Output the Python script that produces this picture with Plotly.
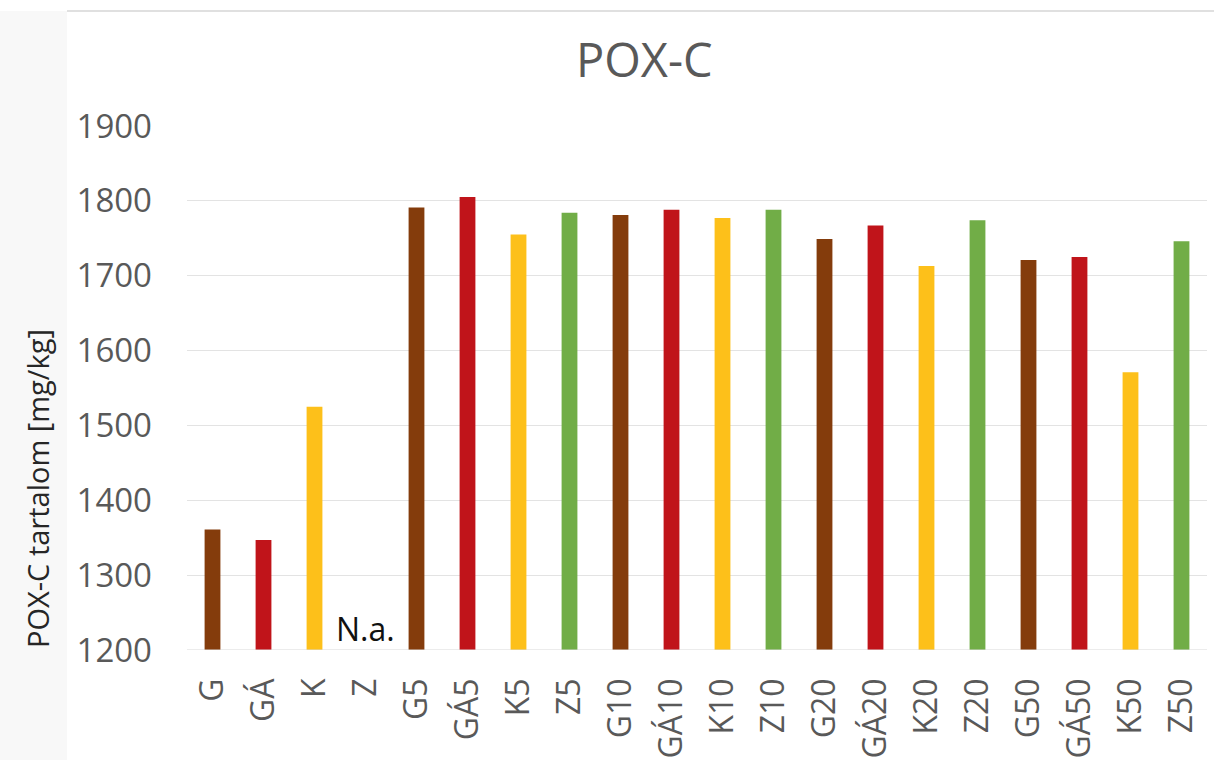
import plotly.graph_objects as go

categories = ["G", "GÁ", "K", "Z", "G5", "GÁ5", "K5", "Z5", "G10", "GÁ10", "K10", "Z10",
              "G20", "GÁ20", "K20", "Z20", "G50", "GÁ50", "K50", "Z50"]
values = [1361, 1347, 1525, None, 1791, 1805, 1755, 1784, 1781, 1788, 1777, 1788,
          1749, 1767, 1713, 1774, 1721, 1725, 1571, 1746]
groups = ["G", "GÁ", "K", "Z"] * 5
group_colors = {"G": "#843C0C", "GÁ": "#C0141A", "K": "#FDC01A", "Z": "#71AD47"}
y_ticks = [1200, 1300, 1400, 1500, 1600, 1700, 1800, 1900]

colors = [group_colors[g] for g in groups]

fig = go.Figure()
fig.add_trace(go.Bar(x=categories, y=values, marker=dict(color=colors, line=dict(width=0)),
                     showlegend=False))

W, H = 1214, 760
L, R, T, B = 187, 7, 126, 110
PW, PH = W - L - R, H - T - B

fig.update_layout(
    width=W, height=H,
    margin=dict(l=L, r=R, t=T, b=B, autoexpand=False),
    paper_bgcolor="white", plot_bgcolor="white",
    bargap=0.69,
    font=dict(family="Open Sans", color="#595959"),
    xaxis=dict(type="category", tickangle=-90, tickfont=dict(size=32, color="#595959"),
               showgrid=False, showline=False, ticks="", ticklabelstandoff=21,
               automargin=False),
    yaxis=dict(range=[1200, 1900], tickvals=y_ticks, tickfont=dict(size=33, color="#595959"),
               showgrid=True, gridcolor="#E3E3E3", gridwidth=1, zeroline=False,
               showline=False, ticks="", ticklabelstandoff=34, automargin=False),
    shapes=[
        dict(type="rect", xref="paper", yref="paper",
             x0=-L / PW, x1=(67 - L) / PW, y0=-B / PH, y1=(H - 11 - B) / PH,
             fillcolor="#F8F8F8", line=dict(width=0), layer="below"),
        dict(type="line", xref="paper", yref="paper",
             x0=(67 - L) / PW, x1=(W - L) / PW,
             y0=(H - 11 - B) / PH, y1=(H - 11 - B) / PH,
             line=dict(color="#D6D6D6", width=1.5)),
        dict(type="line", xref="paper", yref="y", x0=0, x1=1, y0=1200, y1=1200,
             line=dict(color="#D9D9D9", width=1.2)),
    ],
    annotations=[
        dict(text="POX-C", xref="paper", yref="paper", x=(644 - L) / PW, y=(H - 59 - B) / PH,
             xanchor="center", yanchor="middle", showarrow=False,
             font=dict(size=47, color="#595959", family="Open Sans")),
        dict(text="POX-C tartalom [mg/kg]", xref="paper", yref="paper",
             x=(37 - L) / PW, y=(H - B - 489) / PH, textangle=-90,
             xanchor="center", yanchor="middle", showarrow=False,
             font=dict(size=29, color="#262626", family="Open Sans")),
        dict(text="N.a.", x="Z", y=1200, xref="x", yref="y", xanchor="center", yanchor="bottom",
             yshift=-2, showarrow=False, font=dict(size=32, color="#111111", family="Open Sans")),
    ],
)

fig.write_html("out.html")
